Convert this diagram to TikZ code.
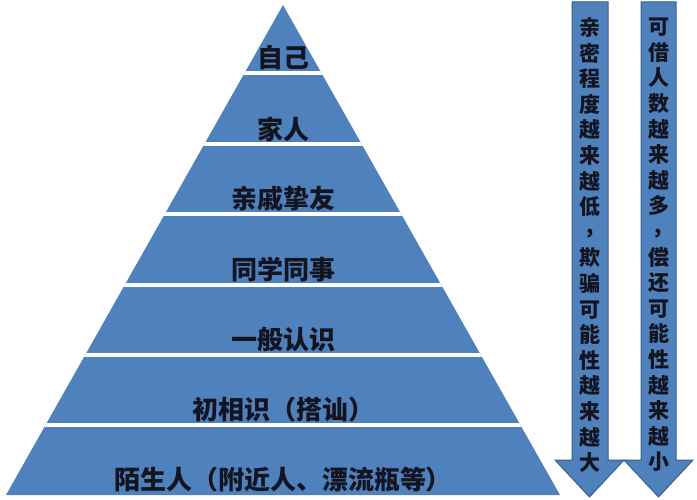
\documentclass[tikz,border=0pt]{standalone}
\usepackage{fontspec}
\setmainfont{Noto Sans CJK SC}
\definecolor{pyblue}{RGB}{79,129,189}
\definecolor{pyedge}{RGB}{56,93,138}
\definecolor{pytext}{RGB}{18,20,32}
\newcommand{\midcomma}{\raisebox{0.3em}{,}}
\begin{document}
\begin{tikzpicture}[x=1pt,y=-1pt,
  layerlabel/.style={text=pytext,font=\fontsize{26}{28}\selectfont\bfseries,inner sep=0pt},
  arrowlabel/.style={text=pytext,font=\fontsize{21}{25.6}\selectfont\bfseries,align=center,inner sep=0pt},
  downarrow/.style={fill=pyblue,draw=pyedge,line width=1pt,line join=miter}]
\useasboundingbox (0,0) rectangle (697,500);
% pyramid
\coordinate (apex) at (283,5);
\coordinate (baseleft) at (6,495);
\coordinate (baseright) at (560,495);
\fill[pyblue] (apex) -- (baseleft) -- (baseright) -- cycle;
\begin{scope}
\clip (apex) -- (baseleft) -- (baseright) -- cycle;
\foreach \y in {73.5,144,214.5,285,355,425}
  \draw[white,line width=4pt] (0,\y) -- (697,\y);
\end{scope}
\node[layerlabel] (self) at (283,58) {自己};
\node[layerlabel] (family) at (283,129) {家人};
\node[layerlabel] (friends) at (283,199) {亲戚挚友};
\node[layerlabel] (mates) at (283,270) {同学同事};
\node[layerlabel] (known) at (283,340) {一般认识};
\node[layerlabel] (newmet) at (283,410) {初相识（搭讪）};
\node[layerlabel] (strangers) at (283,480) {陌生人（附近人、漂流瓶等）};
% arrows
\draw[downarrow] (572,2) -- (608,2) -- (608,460) -- (624,460) -- (589.5,497)
  -- (555,460) -- (572,460) -- cycle;
\draw[downarrow] (641,2) -- (676,2) -- (676,460) -- (693,460) -- (658.5,497)
  -- (624,460) -- (641,460) -- cycle;
\node[arrowlabel] (trust) at (590,245)
  {亲\\密\\程\\度\\越\\来\\越\\低\\\midcomma\\欺\\骗\\可\\能\\性\\越\\来\\越\\大};
\node[arrowlabel] (lenders) at (658.5,245)
  {可\\借\\人\\数\\越\\来\\越\\多\\\midcomma\\偿\\还\\可\\能\\性\\越\\来\\越\\小};
\end{tikzpicture}
\end{document}
